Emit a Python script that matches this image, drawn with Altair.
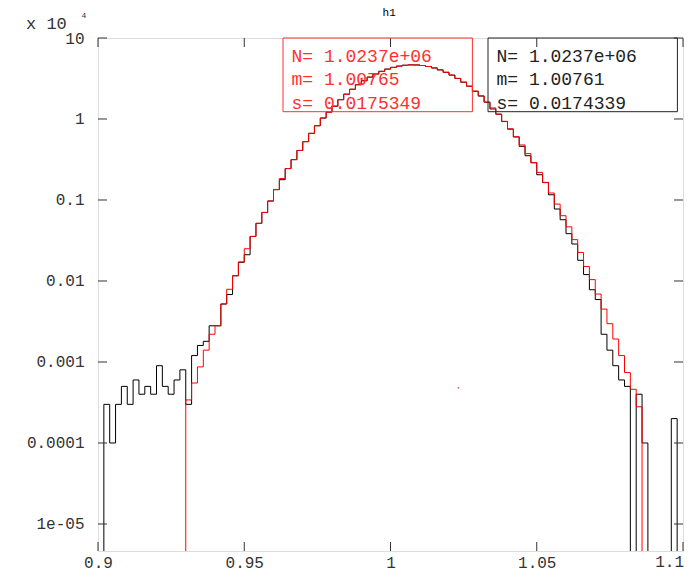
import altair as alt
import pandas as pd

# ---------------- data (counts per bin, bins of 0.002 from 0.9 to 1.1) ----------------
bin_start = 0.9
bin_width = 0.002
black_counts = [
    0, 3, 1, 3, 5, 3, 6, 4, 5, 4,
    9, 5, 4, 6, 8, 3, 12, 16, 18, 28,
    28, 52, 68, 116, 170, 211, 355, 515, 700, 970,
    1340, 1780, 2440, 3150, 4090, 5250, 6650, 8260, 10280, 12150,
    14400, 17300, 20250, 23300, 26500, 29700, 32900, 35950, 38800, 41300,
    43400, 45000, 46100, 46600, 46450, 45750, 44450, 42650, 40350, 37700,
    34800, 31650, 28450, 25400, 22000, 19200, 16100, 13300, 11450, 9300,
    7500, 6000, 4600, 3520, 2880, 2050, 1640, 1160, 774, 571,
    384, 286, 180, 120, 78, 59, 22, 14, 9, 6,
    5, 0, 4, 1, 0, 0, 0, 0, 2, 0,
]
red_counts = [
    0, 0, 0, 0, 0, 0, 0, 0, 0, 0,
    0, 0, 0, 0, 0, 3.4, 5.5, 8.7, 14, 22,
    28, 52, 79, 116, 172, 250, 355, 515, 703, 975,
    1350, 1840, 2450, 3150, 4090, 5250, 6650, 8260, 10280, 12150,
    14400, 17340, 20230, 23280, 26460, 29680, 32860, 35910, 38730, 41240,
    43350, 44970, 46060, 46550, 46440, 45740, 44460, 42670, 40410, 37770,
    34860, 31750, 28550, 25400, 22100, 19300, 16200, 13700, 11500, 9360,
    7560, 6050, 4780, 3740, 2900, 2190, 1650, 1220, 890, 640,
    466, 324, 225, 151, 104, 69, 45, 29.7, 19.2, 12,
    7.4, 4.6, 2.8, 0, 0, 0, 0, 0, 0, 0,
]
y_scale_factor = 1e4  # axis shows "x 10^4"

# a stray red marker visible in the reference
red_dot_x = [1.0232]
red_dot_y = [4.8e-4]

x_tick_values = [0.9, 0.95, 1.0, 1.05, 1.1]
x_tick_labels = ["0.9", "0.95", "1", "1.05", "1.1"]
y_tick_values = [10, 1, 0.1, 0.01, 0.001, 0.0001, 1e-05]
y_tick_labels = ["10", "1", "0.1", "0.01", "0.001", "0.0001", "1e-05"]

red_stats = ["N= 1.0237e+06", "m= 1.00765", "s= 0.0175349"]
black_stats = ["N= 1.0237e+06", "m= 1.00761", "s= 0.0174339"]
title_text = "h1"

# ---------------- layout ----------------
W, H = 585, 513
x_domain = [0.9, 1.1]
y_domain = [4.64e-6, 10]
FLOOR = 1e-9
FONT = "Liberation Mono"
LABEL_COLOR = "#333333"
LABEL_SIZE = 16


def hist_table(counts):
    rows = []
    for i, c in enumerate(counts):
        x = round(bin_start + bin_width * i, 4)
        rows.append({"x": x, "y": c / y_scale_factor if c > 0 else FLOOR})
    rows.append({"x": round(bin_start + bin_width * len(counts), 4), "y": FLOOR})
    return pd.DataFrame(rows)


xs = alt.Scale(domain=x_domain, nice=False, zero=False)
ys = alt.Scale(type="log", domain=y_domain, nice=False)


def expr_lookup(values, labels):
    return ("[" + ",".join("'%s'" % l for l in labels) + "][indexof(["
            + ",".join(repr(v) for v in values) + "], datum.value)]")


# the last x label sits at the page's right edge; it is drawn as a text mark kept inside
axis_x_values = x_tick_values[:-1]
axis_x_labels = x_tick_labels[:-1]

x_axis = alt.Axis(values=axis_x_values, labelExpr=expr_lookup(axis_x_values, axis_x_labels),
                  ticks=False, tickSize=0, domain=False, grid=False, labelFont=FONT,
                  labelFontSize=LABEL_SIZE, labelColor=LABEL_COLOR, labelPadding=16,
                  labelBaseline="alphabetic",
                  labelFlush=False, labelOverlap=False, labelBound=False, title=None)
y_axis = alt.Axis(values=y_tick_values, labelExpr=expr_lookup(y_tick_values, y_tick_labels),
                  ticks=False, tickSize=0, domain=False, grid=False, labelFont=FONT,
                  labelFontSize=LABEL_SIZE, labelColor=LABEL_COLOR, labelPadding=14,
                  labelFlush=False, labelOverlap=False, labelBound=False, title=None)


def X(field):
    return alt.X(field, scale=xs, axis=x_axis)


def Y(field):
    return alt.Y(field, scale=ys, axis=y_axis)


def step_line(counts, color):
    return alt.Chart(hist_table(counts)).mark_line(
        interpolate="step-after", clip=True, strokeWidth=1, color=color
    ).encode(x=X("x:Q"), y=Y("y:Q"))


black_line = step_line(black_counts, "#000000")
red_line = step_line(red_counts, "#ff0000")
red_dot = alt.Chart(pd.DataFrame({"x": red_dot_x, "y": red_dot_y})).mark_square(
    size=2, color="#ff4040", opacity=1).encode(x=X("x:Q"), y=Y("y:Q"))

last_label = alt.Chart(pd.DataFrame({"x": x_tick_values[-1:], "t": x_tick_labels[-1:]})).mark_text(
    font=FONT, fontSize=LABEL_SIZE, color=LABEL_COLOR, align="right",
    baseline="alphabetic", dx=1).encode(x=X("x:Q"), y=alt.value(H + 16), text="t:N")

xt = pd.DataFrame({"x": x_tick_values})
yt = pd.DataFrame({"y": y_tick_values})
TICK = 9
tick_color = "#333333"
ticks = [
    alt.Chart(xt).mark_rule(color=tick_color, strokeWidth=1).encode(
        x=X("x:Q"), y=alt.value(H), y2=alt.value(H - TICK)),
    alt.Chart(xt).mark_rule(color=tick_color, strokeWidth=1).encode(
        x=X("x:Q"), y=alt.value(0), y2=alt.value(TICK)),
    alt.Chart(yt).mark_rule(color=tick_color, strokeWidth=1).encode(
        y=Y("y:Q"), x=alt.value(0), x2=alt.value(TICK)),
    alt.Chart(yt).mark_rule(color=tick_color, strokeWidth=1).encode(
        y=Y("y:Q"), x=alt.value(W), x2=alt.value(W - TICK)),
]

one = pd.DataFrame({"k": [0]})


def text(t, x, y, size, color, align="left", baseline="alphabetic"):
    return alt.Chart(one).mark_text(
        text=t, font=FONT, fontSize=size, color=color, align=align, baseline=baseline
    ).encode(x=alt.value(x), y=alt.value(y))


def box(x1, x2, y1, y2, color):
    return alt.Chart(one).mark_rect(fillOpacity=0, stroke=color, strokeWidth=1).encode(
        x=alt.value(x1), x2=alt.value(x2), y=alt.value(y1), y2=alt.value(y2))


stat_baselines = [23.7, 47, 71]
annotations = [
    box(185, 374.4, 0, 73.7, "#ff3030"),
    box(390, 579.4, 0, 73.7, "#222222"),
]
for t, yb in zip(red_stats, stat_baselines):
    annotations.append(text(t, 193.5, yb, 18, "#ff3030"))
for t, yb in zip(black_stats, stat_baselines):
    annotations.append(text(t, 398.5, yb, 18, "#222222"))
annotations += [
    text(title_text, 291.2, -22, 11, "#000000", align="center"),
    text("x 10", -72, -8.7, 17, LABEL_COLOR),
    text("4", -14, -19.7, 8, LABEL_COLOR, align="center"),
]

chart = alt.layer(black_line, red_line, red_dot, last_label, *ticks, *annotations).properties(
    width=W, height=H,
    autosize=alt.AutoSizeParams(type="none"),
    padding={"left": 90, "top": 30, "right": 2, "bottom": 20},
).configure_view(stroke="#333333", strokeWidth=1).configure(background="white")

chart.save("out.html", embed_options={"renderer": "svg", "actions": False})
